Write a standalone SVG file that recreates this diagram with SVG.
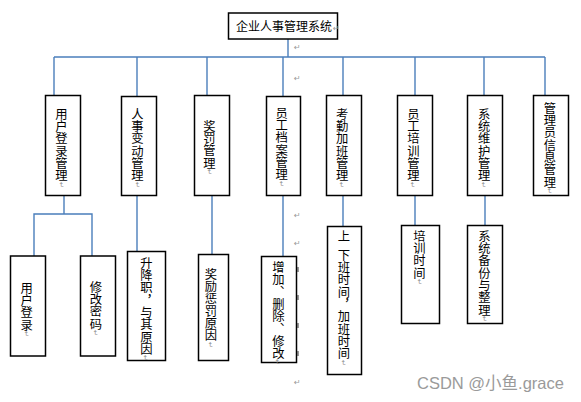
<svg xmlns="http://www.w3.org/2000/svg" width="581" height="402" viewBox="0 0 581 402">
<style>
.box{fill:#fff;stroke:#000;stroke-width:1.5}
.c{stroke:#4a7ebb;stroke-width:1.4;fill:none}
.v{font-family:"Noto Sans CJK SC","Liberation Sans",sans-serif;font-size:12.3px;fill:#000;writing-mode:vertical-rl}
.h{font-family:"Noto Sans CJK SC","Liberation Sans",sans-serif;font-size:12px;fill:#000}
.pm{font-size:7px;fill:#888}
.rm{font-family:"DejaVu Sans",sans-serif;font-size:8px;fill:#999}
.wm{font-family:"Liberation Sans","Noto Sans CJK SC",sans-serif;font-size:16.5px;fill:#9a9a9a}
</style>
<rect width="581" height="402" fill="#fff"/>
<g id="connectors">
<line class="c" x1="288" y1="39" x2="288" y2="57"/>
<line class="c" x1="54" y1="57" x2="545" y2="57"/>
<line class="c" x1="54" y1="57" x2="54" y2="95"/>
<line class="c" x1="137" y1="57" x2="137" y2="96"/>
<line class="c" x1="207" y1="57" x2="207" y2="95"/>
<line class="c" x1="283" y1="57" x2="283" y2="96"/>
<line class="c" x1="343" y1="57" x2="343" y2="95"/>
<line class="c" x1="415" y1="57" x2="415" y2="95"/>
<line class="c" x1="484" y1="57" x2="484" y2="95"/>
<line class="c" x1="545" y1="57" x2="545" y2="95"/>
<polyline class="c" points="64,195 64,214"/>
<polyline class="c" points="34,256 34,214 92,214 92,256"/>
<line class="c" x1="137" y1="195" x2="137" y2="251"/>
<line class="c" x1="212" y1="195" x2="212" y2="254"/>
<line class="c" x1="283" y1="195" x2="283" y2="256"/>
<line class="c" x1="343" y1="195" x2="343" y2="226"/>
<line class="c" x1="415" y1="195" x2="415" y2="225"/>
<line class="c" x1="485" y1="195" x2="485" y2="225"/>
</g>
<g id="marks">
<text class="rm" x="294" y="50">↵</text>
<text class="rm" x="294" y="81">↵</text>
<text class="rm" x="294" y="218">↵</text>
<text class="rm" x="294" y="246">↵</text>
<text class="rm" x="294" y="385">↵</text>
<rect x="297" y="267" width="2" height="5" fill="#999"/>
<rect x="297" y="295" width="2" height="5" fill="#999"/>
<rect x="297" y="323" width="2" height="5" fill="#999"/>
<rect x="297" y="351" width="2" height="5" fill="#999"/>
</g>
<g id="root">
<rect class="box" x="228.5" y="13" width="109" height="26"/>
<text class="h" x="236" y="30.5">企业人事管理系统<tspan class="rm" dx="1">↵</tspan></text>
</g>
<g id="n1"><rect class="box" x="45.5" y="95.5" width="35" height="100"/><text class="v" x="61.5" y="108">用户登录管理<tspan class="pm">↵</tspan></text></g>
<g id="n2"><rect class="box" x="121.5" y="96.5" width="35" height="99"/><text class="v" x="137.5" y="108">人事变动管理<tspan class="pm">↵</tspan></text></g>
<g id="n3"><rect class="box" x="194.5" y="95.5" width="35" height="100"/><text class="v" x="209.5" y="120">奖罚管理<tspan class="pm">↵</tspan></text></g>
<g id="n4"><rect class="box" x="266.5" y="96.5" width="34" height="99"/><text class="v" x="281.7" y="107">员工档案管理<tspan class="pm">↵</tspan></text></g>
<g id="n5"><rect class="box" x="326.5" y="95.5" width="35" height="100"/><text class="v" x="342.2" y="108">考勤加班管理<tspan class="pm">↵</tspan></text></g>
<g id="n6"><rect class="box" x="397.5" y="95.5" width="35" height="100"/><text class="v" x="413.3" y="108">员工培训管理<tspan class="pm">↵</tspan></text></g>
<g id="n7"><rect class="box" x="467.5" y="95.5" width="35" height="100"/><text class="v" x="484.2" y="108">系统维护管理<tspan class="pm">↵</tspan></text></g>
<g id="n8"><rect class="box" x="533.5" y="95.5" width="35" height="100"/><text class="v" x="550" y="102">管理员信息管理<tspan class="pm">↵</tspan></text></g>
<g id="n1a"><rect class="box" x="10.5" y="256" width="35" height="100"/><text class="v" x="26.7" y="282">用户登录<tspan class="pm">↵</tspan></text></g>
<g id="n1b"><rect class="box" x="80.5" y="256" width="35" height="100"/><text class="v" x="95.8" y="281">修改密码<tspan class="pm">↵</tspan></text></g>
<g id="n2a"><rect class="box" x="127.5" y="251.5" width="38" height="109"/><text class="v" x="146.3" y="257">升降职，与其原因<tspan class="pm">↵</tspan></text></g>
<g id="n3a"><rect class="box" x="198.5" y="254.5" width="30" height="106"/><text class="v" x="211" y="268">奖励惩罚原因<tspan class="pm">↵</tspan></text></g>
<g id="n4a"><rect class="box" x="261.5" y="256.5" width="35" height="106"/><text class="v" x="278.3" y="261">增加、删除、修改<tspan class="pm">↵</tspan></text></g>
<g id="n5a"><rect class="box" x="327.5" y="226.5" width="34" height="148"/><text class="v" x="344" y="230">上</text><text class="v" x="344" y="249">下班时间，加班时间<tspan class="pm">↵</tspan></text></g>
<g id="n6a"><rect class="box" x="401.5" y="225.5" width="38" height="98"/><text class="v" x="419.5" y="230">培训时间<tspan class="pm">↵</tspan></text></g>
<g id="n7a"><rect class="box" x="467.5" y="225.5" width="35" height="98"/><text class="v" x="484.5" y="230">系统备份与整理<tspan class="pm">↵</tspan></text></g>
<text class="wm" x="417" y="389">CSDN @小鱼.grace</text>
</svg>
